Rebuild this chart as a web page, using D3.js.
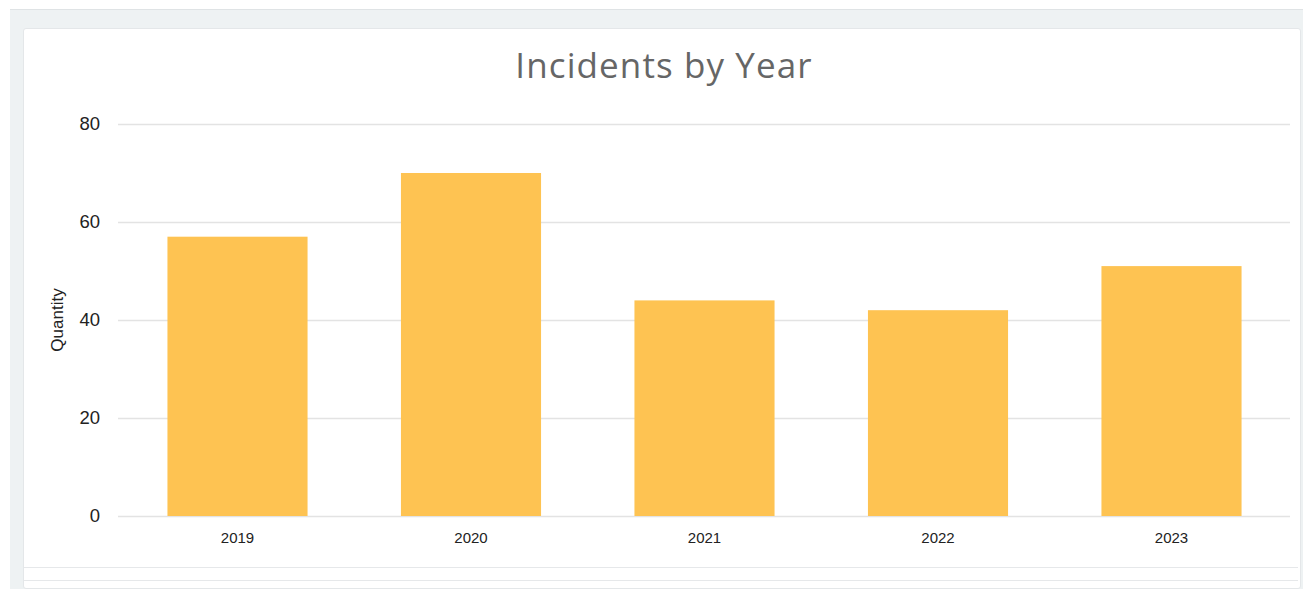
<!DOCTYPE html>
<html><head><meta charset="utf-8">
<script src="https://cdn.jsdelivr.net/npm/d3@7"></script>
<style>
html,body{margin:0;padding:0;background:#fff;}
#wrap{position:absolute;left:10px;top:9px;width:1293px;height:580px;background:#eef2f3;border-top:1px solid #dfe3e5;}
#card{position:absolute;left:13px;top:18px;width:1276px;height:559px;background:#fff;border:1px solid #e4e7e9;border-radius:3px;}
svg{position:absolute;left:0;top:0;}
</style></head>
<body>
<div id="wrap"><div id="card"></div></div>
<svg id="chart" width="1303" height="589"></svg>
<script>
const categories = ["2019","2020","2021","2022","2023"];
const values = [57, 70, 44, 42, 51];
const yTicks = [0, 20, 40, 60, 80];
const title = "Incidents by Year";
const yLabel = "Quantity";

const svg = d3.select("#chart");
const x = d3.scaleBand().domain(categories).range([120.75, 1288.25]).paddingInner(0.4).paddingOuter(0.2);
const y = d3.scaleLinear().domain([0, 80]).range([516, 124]);

// footer lines
svg.append("line").attr("x1",24).attr("x2",1298).attr("y1",567.5).attr("y2",567.5).attr("stroke","#e6e8ea");
svg.append("line").attr("x1",24).attr("x2",1298).attr("y1",580.5).attr("y2",580.5).attr("stroke","#e6e8ea");

// grid
const grid = svg.append("g").attr("transform","translate(118,0)")
  .call(d3.axisLeft(y).tickValues(yTicks).tickSize(-(1290-118)).tickFormat(""));
grid.select(".domain").remove();
grid.selectAll("line").attr("stroke","#e3e3e3").attr("stroke-width",1.5);

// y labels
const ya = svg.append("g").attr("transform","translate(100,0)")
  .call(d3.axisLeft(y).tickValues(yTicks).tickSize(0).tickPadding(0));
ya.select(".domain").remove();
ya.selectAll("text").attr("font-family","Liberation Sans, Arial, sans-serif").attr("font-size",18.5).attr("fill","#222");

// bars
svg.append("g").selectAll("rect").data(values).join("rect")
  .attr("x",(d,i)=>x(categories[i])).attr("width",x.bandwidth())
  .attr("y",d=>y(d)).attr("height",d=>y(0)-y(d)).attr("fill","#fec352");

// x labels
const xa = svg.append("g").attr("transform","translate(0,525)")
  .call(d3.axisBottom(x).tickSize(0).tickPadding(7));
xa.select(".domain").remove();
xa.selectAll("text").attr("font-family","Liberation Sans, Arial, sans-serif").attr("font-size",15).attr("fill","#222");

// y title
svg.append("text").attr("transform","translate(63,320) rotate(-90)").attr("text-anchor","middle")
  .attr("font-family","Liberation Sans, Arial, sans-serif").attr("font-size",17).attr("fill","#222").text(yLabel);

// title
svg.append("text").attr("x",664).attr("y",78).attr("text-anchor","middle")
  .attr("font-family","Open Sans, sans-serif").attr("font-size",35).attr("letter-spacing",1.1).attr("fill","#666").text(title);
</script>
</body></html>
